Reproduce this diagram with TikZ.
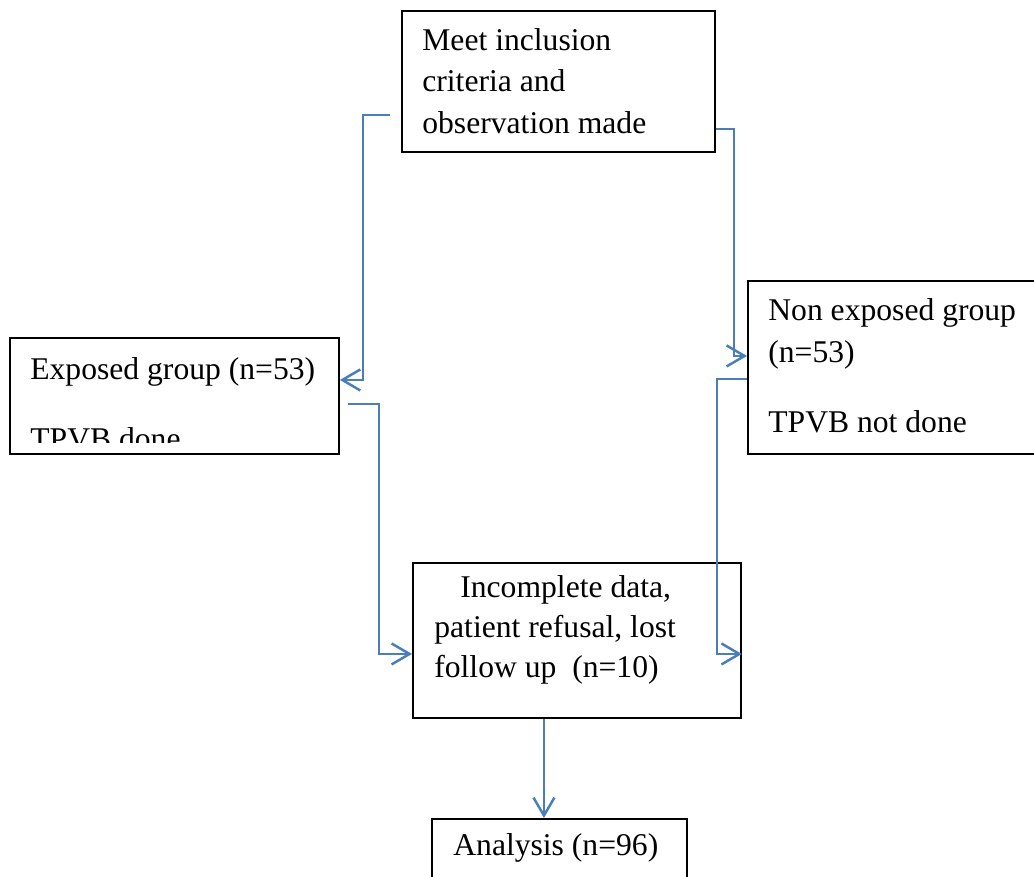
\documentclass[tikz,border=0pt]{standalone}
\usepackage{fontspec}
\setmainfont{Liberation Serif}
\usetikzlibrary{arrows.meta}
\definecolor{flowblue}{HTML}{4A7EBB}

\begin{document}
\begin{tikzpicture}[x=0.02cm,y=-0.02cm,
    box/.style={draw,line width=1.1pt,inner sep=0pt,anchor=north west},
    txt/.style={anchor=base west,inner sep=0pt,align=left,
      font=\fontsize{18}{23.6}\selectfont},
    link/.style={draw=flowblue,line width=1.4pt,
      -{Straight Barb[length=0.36cm,width=0.42cm,line width=1.4pt]}}]
        \clip (0,0) rectangle (1034,876);

        % boxes
        \node[box,minimum width=6.26cm,minimum height=2.82cm] (meet) at (401,10) {};
        \node[box,minimum width=6.58cm,minimum height=2.32cm] (exposed) at (9,337) {};
        \node[box,minimum width=5.86cm,minimum height=3.46cm] (nonexp) at (747,280) {};
        \node[box,minimum width=6.56cm,minimum height=3.10cm] (incomp) at (412,562) {};
        \node[box,minimum width=5.10cm,minimum height=1.40cm] (analysis) at (431,818) {};

        % texts (anchored at the baseline of the last line)
        \node[txt] (meet-txt) at (422,133) {Meet inclusion\\criteria and\\observation made};
        \begin{scope}
          \clip (0,0) rectangle (1034,442);
          \node[txt] (exposed-txt) at (30,449) {Exposed group (n=53)\\[16pt]TPVB done};
        \end{scope}
        \node[txt] (nonexp-txt) at (768,432) {Non exposed group\\(n=53)\\[16pt]TPVB not done};
        \node[txt] (incomp-txt) at (434,677) {\hspace*{0.52cm}Incomplete data,\\[-1pt]patient refusal, lost\\[-1pt]follow up \ (n=10)};
        \node[txt] (analysis-txt) at (453,855) {Analysis (n=96)};

        % connectors
        \coordinate (meet-l) at (390,115);
        \coordinate (exposed-r) at (348,404);
        \draw[link] (meet-l) -- ++(-27,0) |- ([yshift=0.32cm]exposed.east);
        \draw[link] ([yshift=-0.95cm]meet.east) -- ++(18,0) |- ([yshift=0.23cm]nonexp.west);
        \draw[link] (exposed-r) -- ++(31,0) |- ([yshift=-0.27cm]incomp.west);
        \draw[link] ([yshift=-0.23cm]nonexp.west) -- ++(-30,0) |- ([yshift=-0.27cm]incomp.east);
        \draw[link] ([xshift=-0.66cm]incomp.south) -- ([xshift=-0.66cm]incomp.south |- analysis.north);
      \end{tikzpicture}
\end{document}
